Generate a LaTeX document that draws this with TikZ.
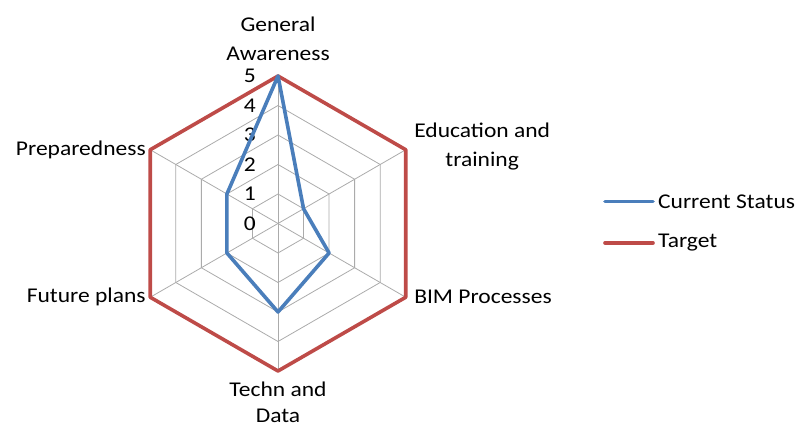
\documentclass[tikz,border=0pt]{standalone}
\usepackage{fontspec}
\setmainfont{Carlito}[FakeStretch=1.12]
\definecolor{statusblue}{HTML}{4A7EBB}
\definecolor{targetred}{HTML}{BE4B48}
\definecolor{gridgray}{HTML}{ABABAB}
\begin{document}
\begin{tikzpicture}[x=1pt,y=1pt,font=\fontsize{21}{28.5}\selectfont, line join=round, line cap=round]
	\def\rstep{29.5}
	\def\rmax{147.5}
	\useasboundingbox (-278,-203.5) rectangle (523,223.5);
	% web
	\foreach \k in {1,...,5}
	\draw[gridgray,line width=0.8pt] (90:\k*\rstep)--(30:\k*\rstep)--(-30:\k*\rstep)--(-90:\k*\rstep)--(210:\k*\rstep)--(150:\k*\rstep)--cycle;
	\foreach \a in {90,30,-30,-90,210,150}
	\draw[gridgray,line width=0.8pt] (0,0)--(\a:\rmax);
	% scale
	\foreach \k in {0,...,5}
	\node[anchor=east,inner sep=0pt] (tick\k) at (-22,\k*\rstep) {\k};
	% target and current status
	\draw[targetred,line width=3.6pt] (90:\rmax)--(30:\rmax)--(-30:\rmax)--(-90:\rmax)--(210:\rmax)--(150:\rmax)--cycle;
	\draw[statusblue,line width=3.6pt] (90:5*\rstep)--(30:1*\rstep)--(-30:2*\rstep)--(-90:3*\rstep)--(210:2*\rstep)--(150:2*\rstep)--cycle;
	% axis labels
	\node[anchor=south,inner sep=0pt,align=center] (gen) at (0,163) {General\\Awareness};
	\node[right=5pt,yshift=3pt,align=center] (edu) at (30:\rmax) {Education and\\training};
	\node[right=5pt] (bim) at (-30:\rmax) {BIM Processes};
	\node[anchor=north,inner sep=0pt,align=center,font=\fontsize{21}{26}\selectfont] (tec) at (0,-158) {Techn and\\Data};
	\node[left=1pt] (fut) at (210:\rmax) {Future plans};
	\node[left=1pt] (pre) at (150:\rmax) {Preparedness};
	% legend
	\coordinate (cs1) at (327,22); \coordinate (cs2) at (375,22);
	\coordinate (tg1) at (327,-19.5); \coordinate (tg2) at (375,-19.5);
	\draw[statusblue,line width=3.6pt] (cs1)--(cs2) node[right=0pt] (csl) {\textcolor{black}{Current Status}};
	\draw[targetred,line width=3.6pt] (tg1)--(tg2) node[right=0pt] (tgl) {\textcolor{black}{Target}};
\end{tikzpicture}
\end{document}
